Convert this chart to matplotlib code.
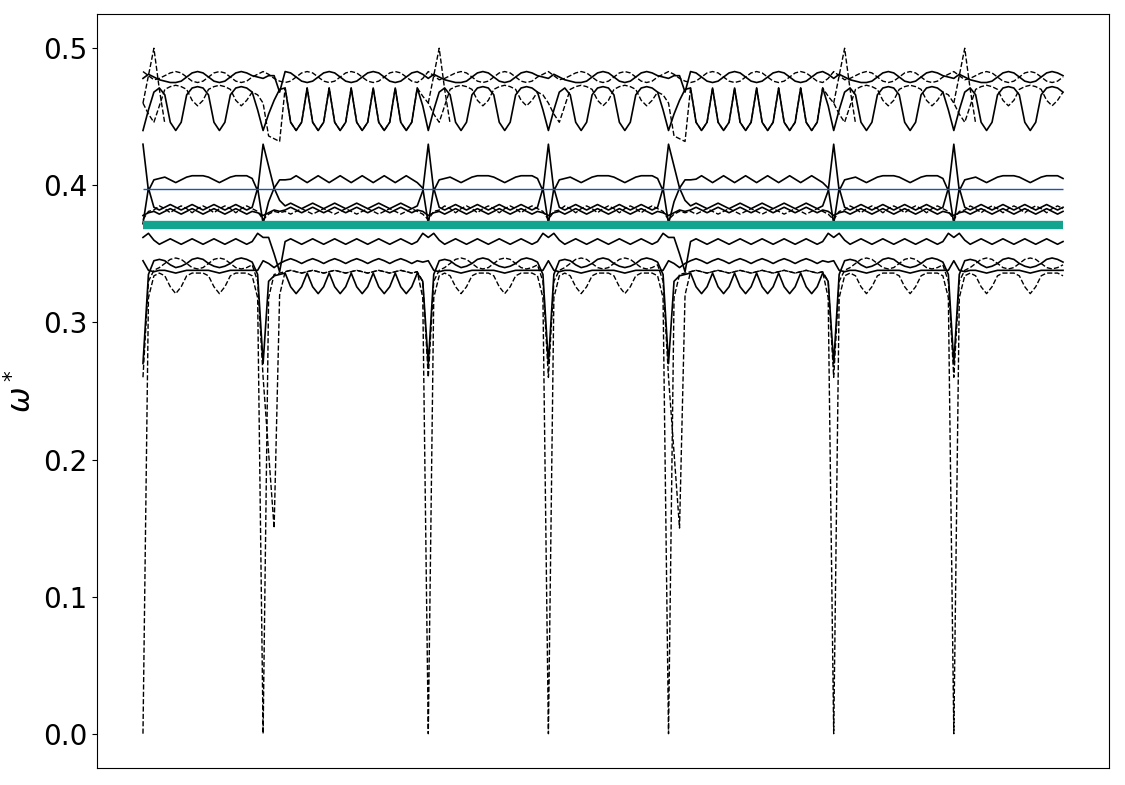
import numpy as np
import matplotlib.pyplot as plt

# path through the zone: segment start (path length), template kind, knots used
seg_start = [0, 120, 285, 405, 525, 690, 810]
seg_kind = ['A', 'B', 'A', 'A', 'B', 'A', 'A']
seg_knots = [23, 31, 23, 23, 31, 23, 21]
seg_len = {'A': 120, 'B': 165}

# reference frequencies (horizontal markers)
omega_blue = 0.3975
omega_teal = 0.3714

# band values, short segments (A) and long segments (B)
b0_A = [0.000, 0.318, 0.334, 0.336, 0.334, 0.326, 0.321, 0.326, 0.334, 0.336, 0.336, 0.336,
        0.334, 0.326, 0.321, 0.326, 0.334, 0.336, 0.336, 0.336, 0.334, 0.318, 0.000]
b0_B = [0.000, 0.318, 0.335, 0.336, 0.337, 0.338, 0.337, 0.336, 0.337, 0.338, 0.337, 0.336,
        0.337, 0.338, 0.337, 0.336, 0.337, 0.338, 0.337, 0.336, 0.337, 0.338, 0.337, 0.336,
        0.337, 0.338, 0.337, 0.336, 0.337, 0.318, 0.000]

b1_A = [0.260, 0.330, 0.338, 0.340, 0.343, 0.346, 0.347, 0.346, 0.343, 0.340, 0.339, 0.340,
        0.343, 0.346, 0.347, 0.346, 0.343, 0.340, 0.339, 0.340, 0.342, 0.330, 0.260]
b1_B = [0.260, 0.205, 0.150, 0.320, 0.337, 0.338, 0.337, 0.336, 0.337, 0.338, 0.337, 0.336,
        0.337, 0.338, 0.337, 0.336, 0.337, 0.338, 0.337, 0.336, 0.337, 0.338, 0.337, 0.336,
        0.337, 0.338, 0.337, 0.336, 0.337, 0.330, 0.260]

b2_A = [0.270, 0.335, 0.345, 0.346, 0.345, 0.342, 0.340, 0.341, 0.343, 0.346, 0.347, 0.346,
        0.343, 0.341, 0.340, 0.341, 0.343, 0.346, 0.347, 0.346, 0.344, 0.335, 0.270]
b2_B = [0.270, 0.330, 0.334, 0.335, 0.336, 0.326, 0.321, 0.326, 0.336, 0.326, 0.321, 0.326,
        0.336, 0.326, 0.321, 0.326, 0.336, 0.326, 0.321, 0.326, 0.336, 0.326, 0.321, 0.326,
        0.336, 0.326, 0.321, 0.326, 0.336, 0.330, 0.270]

b3_A = [0.345, 0.338, 0.337, 0.338, 0.338, 0.337, 0.336, 0.337, 0.338, 0.338, 0.338, 0.338,
        0.338, 0.337, 0.336, 0.337, 0.338, 0.338, 0.338, 0.338, 0.338, 0.338, 0.345]
b3_B = [0.345, 0.343, 0.340, 0.343, 0.345, 0.3465, 0.345, 0.343, 0.345, 0.3465, 0.345, 0.343,
        0.345, 0.3465, 0.345, 0.343, 0.345, 0.3465, 0.345, 0.343, 0.345, 0.3465, 0.345, 0.343,
        0.345, 0.3465, 0.345, 0.343, 0.345, 0.344, 0.345]

b4_A = [0.362, 0.365, 0.360, 0.357, 0.359, 0.361, 0.359, 0.357, 0.359, 0.361, 0.359, 0.357,
        0.359, 0.361, 0.359, 0.357, 0.359, 0.361, 0.359, 0.357, 0.359, 0.365, 0.362]
b4_B = [0.362, 0.362, 0.350, 0.337, 0.359, 0.361, 0.359, 0.357, 0.359, 0.361, 0.359, 0.357,
        0.359, 0.361, 0.359, 0.357, 0.359, 0.361, 0.359, 0.357, 0.359, 0.361, 0.359, 0.357,
        0.359, 0.361, 0.359, 0.357, 0.359, 0.365, 0.362]

b5_A = [0.375, 0.381, 0.382, 0.385, 0.383, 0.380, 0.383, 0.385, 0.383, 0.380, 0.383, 0.385,
        0.383, 0.380, 0.383, 0.385, 0.383, 0.380, 0.383, 0.385, 0.383, 0.381, 0.375]
b5_B = [0.375, 0.379, 0.381, 0.380, 0.381, 0.379, 0.381, 0.383, 0.381, 0.379, 0.381, 0.383,
        0.381, 0.379, 0.381, 0.383, 0.381, 0.379, 0.381, 0.383, 0.381, 0.379, 0.381, 0.383,
        0.381, 0.379, 0.381, 0.383, 0.381, 0.379, 0.375]

b6_A = [0.378, 0.380, 0.381, 0.379, 0.381, 0.383, 0.381, 0.379, 0.381, 0.383, 0.381, 0.379,
        0.381, 0.383, 0.381, 0.379, 0.381, 0.383, 0.381, 0.379, 0.381, 0.380, 0.378]
b6_B = [0.378, 0.380, 0.382, 0.381, 0.382, 0.384, 0.382, 0.380, 0.382, 0.384, 0.382, 0.380,
        0.382, 0.384, 0.382, 0.380, 0.382, 0.384, 0.382, 0.380, 0.382, 0.384, 0.382, 0.380,
        0.382, 0.384, 0.382, 0.380, 0.382, 0.381, 0.378]

b7_A = [0.372, 0.398, 0.384, 0.382, 0.384, 0.386, 0.384, 0.382, 0.384, 0.386, 0.384, 0.382,
        0.384, 0.386, 0.384, 0.382, 0.384, 0.386, 0.384, 0.382, 0.384, 0.398, 0.372]
b7_B = [0.372, 0.388, 0.398, 0.404, 0.404, 0.4045, 0.407, 0.4045, 0.402, 0.4045, 0.407, 0.4045,
        0.402, 0.4045, 0.407, 0.4045, 0.402, 0.4045, 0.407, 0.4045, 0.402, 0.4045, 0.407, 0.4045,
        0.402, 0.4045, 0.407, 0.4045, 0.402, 0.398, 0.372]

b8_A = [0.430, 0.396, 0.404, 0.405, 0.406, 0.404, 0.402, 0.404, 0.406, 0.407, 0.407, 0.407,
        0.406, 0.404, 0.402, 0.404, 0.406, 0.407, 0.407, 0.407, 0.405, 0.396, 0.430]
b8_B = [0.430, 0.414, 0.398, 0.389, 0.385, 0.387, 0.385, 0.383, 0.385, 0.387, 0.385, 0.383,
        0.385, 0.387, 0.385, 0.383, 0.385, 0.387, 0.385, 0.383, 0.385, 0.387, 0.385, 0.383,
        0.385, 0.387, 0.385, 0.383, 0.385, 0.396, 0.430]

b9_A = [0.440, 0.455, 0.468, 0.471, 0.466, 0.446, 0.440, 0.446, 0.466, 0.471, 0.472, 0.471,
        0.466, 0.446, 0.440, 0.446, 0.466, 0.471, 0.472, 0.471, 0.468, 0.455, 0.440]
b9_B = [0.440, 0.452, 0.462, 0.470, 0.471, 0.446, 0.440, 0.446, 0.471, 0.446, 0.440, 0.446,
        0.471, 0.446, 0.440, 0.446, 0.471, 0.446, 0.440, 0.446, 0.471, 0.446, 0.440, 0.446,
        0.471, 0.446, 0.440, 0.446, 0.471, 0.458, 0.440]

b10_A = [0.460, 0.452, 0.446, 0.458, 0.470, 0.472, 0.473, 0.472, 0.470, 0.462, 0.458, 0.462,
         0.470, 0.472, 0.473, 0.472, 0.470, 0.462, 0.458, 0.462, 0.468, 0.466, 0.460]
b10_B = [0.460, 0.436, 0.434, 0.432, 0.471, 0.446, 0.440, 0.446, 0.471, 0.446, 0.440, 0.446,
         0.471, 0.446, 0.440, 0.446, 0.471, 0.446, 0.440, 0.446, 0.471, 0.446, 0.440, 0.446,
         0.471, 0.446, 0.440, 0.446, 0.471, 0.465, 0.460]

b11_A = [0.478, 0.481, 0.479, 0.477, 0.476, 0.475, 0.475, 0.476, 0.479, 0.482, 0.483, 0.482,
         0.479, 0.476, 0.475, 0.476, 0.479, 0.482, 0.483, 0.482, 0.480, 0.479, 0.478]
b11_B = [0.478, 0.480, 0.480, 0.468, 0.483, 0.482, 0.479, 0.476, 0.475, 0.476, 0.479, 0.482,
         0.483, 0.482, 0.479, 0.476, 0.475, 0.476, 0.479, 0.482, 0.483, 0.482, 0.479, 0.476,
         0.475, 0.476, 0.479, 0.482, 0.483, 0.481, 0.478]

b12_A = [0.483, 0.480, 0.477, 0.478, 0.480, 0.482, 0.483, 0.482, 0.479, 0.476, 0.475, 0.476,
         0.479, 0.482, 0.483, 0.482, 0.479, 0.476, 0.475, 0.476, 0.479, 0.481, 0.483]
b12_B = [0.483, 0.481, 0.478, 0.476, 0.475, 0.476, 0.479, 0.482, 0.483, 0.482, 0.479, 0.476,
         0.475, 0.476, 0.479, 0.482, 0.483, 0.482, 0.479, 0.476, 0.475, 0.476, 0.479, 0.482,
         0.483, 0.482, 0.479, 0.476, 0.475, 0.478, 0.483]

# short dashed spikes just after some of the zone points
spike_vals = [0.460, 0.480, 0.500, 0.470, 0.445]
spike_at = [0, 285, 690, 810]

bands = [
    (b0_A, b0_B, '--'), (b1_A, b1_B, '--'), (b2_A, b2_B, '-'), (b3_A, b3_B, '-'),
    (b4_A, b4_B, '-'), (b5_A, b5_B, '--'), (b6_A, b6_B, '-'), (b7_A, b7_B, '-'),
    (b8_A, b8_B, '-'), (b9_A, b9_B, '-'), (b10_A, b10_B, '--'), (b11_A, b11_B, '-'),
    (b12_A, b12_B, '--'),
]


def band_path(vals_a, vals_b):
    tmpl = {'A': vals_a, 'B': vals_b}
    xs, ys = [], []
    for x0, kind, n in zip(seg_start, seg_kind, seg_knots):
        step = seg_len[kind] / (len(tmpl[kind]) - 1)
        xs.extend(x0 + step * np.arange(n))
        ys.extend(tmpl[kind][:n])
    return np.array(xs), np.array(ys)


fig = plt.figure(figsize=(11.25, 7.85), dpi=100)
ax = fig.add_axes([0.0862, 0.0217, 0.8996, 0.9605])

x_lo, x_hi = None, None
for va, vb, ls in bands:
    x, y = band_path(va, vb)
    ax.plot(x, y, color='k', ls=ls, lw=1.2 if ls == '-' else 1.0)
    x_lo, x_hi = x[0], x[-1]

step_a = seg_len['A'] / (len(b0_A) - 1)
for x0 in spike_at:
    ax.plot(x0 + step_a * np.arange(len(spike_vals)), spike_vals, color='k', ls='--', lw=1.0)

ax.plot([x_lo, x_hi], [omega_blue, omega_blue], color='#1a55b0', lw=1.0,
        solid_capstyle='butt')
ax.plot([x_lo, x_hi], [omega_teal, omega_teal], color='#12a48f', lw=6,
        solid_capstyle='butt')

ax.set_xticks([])
ax.tick_params(axis='y', labelsize=20)
ax.set_ylabel(r'$\omega^*$', fontsize=22)

plt.savefig('out.png', dpi=100)
